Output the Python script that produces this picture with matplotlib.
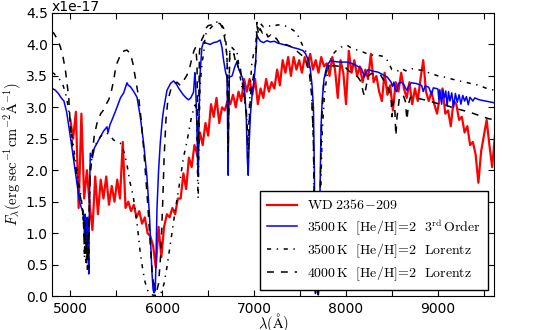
import numpy as np
import matplotlib
matplotlib.use('Agg')
import matplotlib.pyplot as plt
from matplotlib.ticker import MultipleLocator, FuncFormatter

plt.rcParams['mathtext.fontset'] = 'cm'
plt.rcParams['lines.scale_dashes'] = False

SCALE = 1e-17

# observed spectrum, 30 A sampling starting at 5000 A (flux in 1e-17)
red_start, red_step = 5000, 30
red_fx = np.array([
    2.80, 2.50, 2.93, 1.40, 2.90, 1.55, 2.00, 1.45, 1.05, 1.90,
    1.30, 1.85, 1.55, 1.90, 1.45, 1.75, 1.50, 1.85, 1.55, 2.45,
    1.40, 1.50, 1.35, 1.45, 1.25, 1.35, 1.15, 1.25, 1.00, 0.95,
    0.80, 0.45, 1.10, 0.62, 1.10, 1.30, 1.25, 1.40, 1.30, 1.55,
    1.55, 1.95, 1.70, 2.20, 2.05, 2.40, 2.25, 2.60, 2.40, 2.75,
    2.55, 3.05, 2.85, 3.15, 2.75, 3.00, 2.95, 3.10, 3.05, 3.20,
    3.00, 3.25, 3.10, 3.45, 3.25, 3.45, 3.20, 3.45, 3.05, 3.30,
    3.15, 3.45, 3.25, 3.40, 3.30, 3.60, 3.35, 3.75, 3.55, 3.80,
    3.50, 3.80, 3.60, 3.75, 3.55, 3.80, 3.65, 3.85, 3.60, 3.75,
    3.55, 3.80, 3.65, 3.70, 3.50, 3.80, 3.60, 3.15, 3.75, 3.55,
    3.05, 3.90, 3.55, 3.75, 3.50, 3.65, 3.40, 3.60, 3.45, 3.85,
    3.40, 3.50, 3.25, 3.10, 3.55, 3.20, 3.35, 2.95, 3.40, 3.25,
    3.55, 3.30, 3.15, 3.40, 3.05, 3.30, 3.10, 3.45, 3.75, 3.25,
    3.10, 3.25, 3.05, 2.90, 3.15, 3.30, 2.90, 2.95, 2.70, 3.10,
    3.05, 2.80, 2.85, 2.60, 2.70, 2.40, 2.45, 2.25, 1.80, 2.30,
    2.55, 2.80, 2.40, 2.05, 2.55])
red_wl = red_start + red_step * np.arange(len(red_fx))

# 3500 K [He/H]=2, 3rd order model (wavelength, flux)
blue = np.array([
    [4800, 3.30], [4830, 3.28], [4870, 3.22], [4900, 3.15], [4930, 3.10],
    [4960, 2.92], [5000, 2.53], [5036, 2.16], [5072, 1.79], [5100, 1.50],
    [5120, 1.40], [5140, 1.35], [5150, 1.10], [5155, 0.85], [5160, 1.30],
    [5170, 1.20], [5178, 0.70], [5185, 1.25], [5192, 0.90], [5200, 0.35],
    [5208, 1.60], [5217, 2.27], [5240, 2.20], [5260, 2.35], [5290, 2.43],
    [5326, 2.53], [5360, 2.62], [5398, 2.69], [5410, 2.60], [5430, 2.72],
    [5467, 2.85], [5507, 3.00], [5545, 3.15], [5580, 3.23], [5600, 3.32],
    [5616, 3.39], [5630, 3.35], [5652, 3.33], [5690, 3.25], [5725, 3.16],
    [5761, 2.85], [5797, 2.43], [5833, 1.90], [5860, 1.30], [5875, 0.80],
    [5888, 0.37], [5900, 0.10], [5910, 0.05], [5918, 0.20], [5924, 0.08],
    [5932, 0.60], [5942, 1.37], [5960, 2.00], [5978, 2.43], [6000, 2.80],
    [6014, 2.96], [6051, 3.27], [6090, 3.38], [6123, 3.42], [6150, 3.38],
    [6180, 3.30], [6228, 3.20], [6260, 3.15], [6286, 3.12], [6310, 3.15],
    [6340, 3.24], [6355, 3.55], [6362, 3.40], [6375, 2.80], [6385, 2.10],
    [6392, 1.90], [6400, 2.80], [6410, 3.50], [6431, 3.95], [6450, 4.04],
    [6480, 4.02], [6520, 4.00], [6560, 4.03], [6594, 4.04], [6630, 4.07],
    [6650, 3.95], [6667, 3.75], [6690, 3.55], [6705, 3.48], [6712, 2.60],
    [6717, 1.92], [6722, 2.80], [6730, 3.48], [6760, 3.50], [6790, 3.65],
    [6811, 3.72], [6830, 3.62], [6848, 3.55], [6870, 3.48], [6884, 3.40],
    [6900, 3.20], [6915, 2.80], [6925, 2.20], [6935, 1.92], [6945, 2.40],
    [6960, 2.90], [6980, 3.23], [7000, 3.45], [7015, 3.70], [7030, 4.15],
    [7045, 4.10], [7070, 4.05], [7100, 4.03], [7140, 4.06], [7174, 4.04],
    [7220, 4.05], [7260, 4.02], [7315, 4.00], [7370, 3.98], [7424, 3.95],
    [7480, 3.93], [7533, 3.90], [7560, 3.85], [7590, 3.75], [7610, 3.62],
    [7630, 3.35], [7645, 3.00], [7655, 2.00], [7662, 0.80], [7668, 0.05],
    [7676, 0.30], [7684, 1.00], [7690, 0.40], [7698, 0.02], [7706, 0.40],
    [7716, 1.60], [7728, 2.70], [7740, 3.10], [7760, 3.45], [7790, 3.65],
    [7826, 3.74], [7870, 3.73], [7920, 3.72], [7970, 3.72], [8000, 3.72],
    [8043, 3.71], [8090, 3.68], [8130, 3.65], [8165, 3.62], [8185, 3.55],
    [8200, 3.48], [8215, 3.55], [8240, 3.60], [8280, 3.58], [8347, 3.56],
    [8400, 3.52], [8450, 3.48], [8490, 3.40], [8505, 3.33], [8520, 3.40],
    [8535, 3.28], [8550, 3.25], [8570, 3.38], [8600, 3.40], [8630, 3.36],
    [8650, 3.30], [8663, 3.27], [8680, 3.34], [8710, 3.39], [8760, 3.38],
    [8822, 3.35], [8840, 3.25], [8860, 3.34], [8900, 3.32], [8930, 3.20],
    [8950, 3.31], [8980, 3.30], [9000, 3.29], [9010, 3.12], [9020, 3.28],
    [9040, 3.05], [9054, 3.27], [9070, 3.15], [9085, 3.26], [9100, 3.02],
    [9115, 3.25], [9130, 3.10], [9150, 3.23], [9170, 3.00], [9190, 3.22],
    [9210, 3.08], [9230, 3.20], [9250, 3.05], [9270, 3.19], [9290, 3.10],
    [9310, 3.17], [9330, 3.04], [9348, 3.16], [9380, 3.10], [9400, 3.15],
    [9450, 3.12], [9550, 3.09], [9620, 3.07]])

# 3500 K [He/H]=2, Lorentz model
dashdot = np.array([
    [4800, 3.55], [4819, 3.54], [4860, 3.48], [4891, 3.43], [4920, 3.35],
    [4946, 3.23], [4965, 3.10], [4982, 2.96], [5000, 2.75], [5018, 2.53],
    [5036, 2.35], [5054, 2.16], [5072, 1.98], [5090, 1.80], [5110, 1.65],
    [5130, 1.40], [5145, 1.10], [5153, 0.60], [5160, 1.00], [5168, 0.50],
    [5176, 0.90], [5185, 0.40], [5193, 0.80], [5200, 0.45], [5208, 1.40],
    [5217, 2.05], [5235, 2.20], [5250, 2.32], [5290, 2.45], [5326, 2.53],
    [5360, 2.58], [5398, 2.59], [5430, 2.55], [5471, 2.48], [5510, 2.45],
    [5543, 2.43], [5570, 2.35], [5598, 2.21], [5620, 2.05], [5650, 1.80],
    [5685, 1.58], [5705, 1.35], [5725, 1.16], [5745, 0.90], [5761, 0.68],
    [5790, 0.40], [5815, 0.21], [5848, 0.06], [5880, 0.02], [5920, 0.01],
    [5960, 0.02], [5990, 0.06], [6020, 0.20], [6050, 0.45], [6080, 0.75],
    [6110, 1.05], [6140, 1.35], [6170, 1.62], [6200, 1.90], [6230, 2.20],
    [6268, 2.45], [6300, 2.70], [6322, 2.88], [6359, 3.04], [6375, 2.90],
    [6385, 1.80], [6391, 1.55], [6398, 2.40], [6410, 3.30], [6431, 3.70],
    [6450, 3.85], [6467, 4.15], [6490, 4.20], [6520, 4.25], [6550, 4.30],
    [6580, 4.36], [6610, 4.35], [6640, 4.33], [6670, 4.25], [6690, 4.10],
    [6705, 3.75], [6712, 3.00], [6717, 2.43], [6724, 3.30], [6735, 3.96],
    [6760, 3.95], [6790, 3.90], [6811, 3.91], [6830, 3.70], [6848, 3.48],
    [6870, 3.30], [6884, 3.23], [6905, 3.00], [6920, 2.80], [6930, 2.45],
    [6940, 2.60], [6955, 3.30], [6975, 3.70], [6995, 3.86], [7015, 3.90],
    [7030, 4.35], [7045, 4.25], [7065, 4.34], [7100, 4.28], [7150, 4.30],
    [7200, 4.28], [7250, 4.31], [7283, 4.31], [7330, 4.30], [7391, 4.26],
    [7430, 4.22], [7464, 4.18], [7500, 4.07], [7535, 3.96], [7573, 3.86],
    [7600, 3.65], [7625, 3.30], [7645, 2.40], [7658, 0.90], [7667, 0.02],
    [7676, 0.50], [7684, 1.10], [7690, 0.60], [7698, 0.02], [7708, 0.30],
    [7720, 1.40], [7740, 2.60], [7765, 3.20], [7790, 3.48], [7826, 3.75],
    [7860, 3.85], [7899, 3.91], [7950, 3.96], [8008, 3.99], [8050, 3.95],
    [8100, 3.92], [8150, 3.90], [8200, 3.87], [8250, 3.84], [8300, 3.83],
    [8375, 3.82], [8424, 3.80], [8460, 3.72], [8498, 3.60], [8530, 3.60],
    [8565, 3.58], [8600, 3.62], [8650, 3.58], [8700, 3.62], [8760, 3.60],
    [8822, 3.59], [8880, 3.56], [8940, 3.53], [9000, 3.50], [9076, 3.48],
    [9150, 3.45], [9230, 3.42], [9300, 3.40], [9380, 3.37], [9450, 3.35],
    [9530, 3.30], [9620, 3.27]])

# 4000 K [He/H]=2, Lorentz model
dashed = np.array([
    [4800, 4.20], [4819, 4.18], [4860, 4.08], [4891, 3.96], [4920, 3.80],
    [4946, 3.59], [4970, 3.30], [4982, 3.16], [5000, 2.69], [5030, 2.30],
    [5054, 2.05], [5072, 1.90], [5090, 1.70], [5109, 1.58], [5130, 1.40],
    [5145, 1.10], [5155, 0.70], [5162, 1.20], [5170, 0.90], [5178, 0.50],
    [5186, 1.00], [5195, 0.60], [5205, 1.40], [5215, 1.90], [5235, 2.21],
    [5260, 2.55], [5290, 2.75], [5330, 2.90], [5362, 2.96], [5390, 3.05],
    [5417, 3.12], [5445, 3.25], [5471, 3.43], [5490, 3.60], [5507, 3.70],
    [5535, 3.80], [5562, 3.88], [5590, 3.90], [5616, 3.91], [5635, 3.88],
    [5652, 3.86], [5680, 3.70], [5706, 3.48], [5743, 3.16], [5770, 2.80],
    [5797, 2.35], [5820, 1.90], [5845, 1.40], [5870, 0.80], [5895, 0.30],
    [5915, 0.12], [5940, 0.08], [5960, 0.20], [5985, 0.70], [6005, 1.50],
    [6020, 2.20], [6040, 2.80], [6060, 3.10], [6090, 3.27], [6120, 3.35],
    [6160, 3.40], [6196, 3.35], [6230, 3.42], [6268, 3.51], [6300, 3.64],
    [6322, 3.78], [6345, 3.90], [6365, 3.96], [6378, 3.70], [6388, 2.30],
    [6395, 2.80], [6405, 3.90], [6430, 4.08], [6446, 4.12], [6470, 4.25],
    [6500, 4.30], [6530, 4.31], [6560, 4.32], [6594, 4.34], [6630, 4.33],
    [6660, 4.25], [6685, 4.05], [6705, 3.80], [6712, 3.00], [6718, 2.30],
    [6725, 3.20], [6735, 3.86], [6760, 3.80], [6780, 3.85], [6800, 3.70],
    [6811, 3.75], [6830, 3.60], [6848, 3.64], [6865, 3.45], [6884, 3.27],
    [6900, 3.10], [6915, 2.95], [6925, 2.60], [6935, 2.20], [6945, 2.70],
    [6960, 3.20], [6980, 3.40], [7000, 3.55], [7020, 3.75], [7030, 4.30],
    [7050, 4.15], [7065, 4.25], [7090, 4.18], [7120, 4.22], [7150, 4.12],
    [7180, 4.15], [7210, 4.08], [7240, 4.10], [7270, 4.03], [7300, 4.05],
    [7340, 4.00], [7380, 3.98], [7420, 3.95], [7460, 3.90], [7500, 3.85],
    [7540, 3.80], [7570, 3.72], [7600, 3.55], [7625, 3.20], [7645, 2.50],
    [7658, 1.00], [7666, 0.05], [7675, 0.40], [7682, 1.20], [7690, 0.50],
    [7698, 0.02], [7708, 0.50], [7720, 1.80], [7735, 2.80], [7755, 3.35],
    [7790, 3.60], [7830, 3.66], [7880, 3.66], [7940, 3.65], [7989, 3.64],
    [8030, 3.58], [8080, 3.53], [8130, 3.48], [8165, 3.40], [8185, 3.25],
    [8200, 3.18], [8215, 3.30], [8240, 3.50], [8280, 3.54], [8330, 3.52],
    [8378, 3.51], [8424, 3.39], [8460, 3.30], [8490, 3.15], [8500, 2.85],
    [8515, 3.10], [8530, 3.00], [8542, 2.55], [8555, 2.85], [8580, 3.15],
    [8620, 3.20], [8645, 3.10], [8662, 2.80], [8680, 3.05], [8700, 3.16],
    [8760, 3.15], [8820, 3.13], [8880, 3.11], [8950, 3.08], [9020, 3.05],
    [9076, 3.04], [9150, 3.00], [9250, 2.96], [9350, 2.92], [9450, 2.87],
    [9550, 2.82], [9620, 2.80]])

labels = [r'$\mathrm{WD\ 2356\!-\!209}$',
          r'$\mathrm{3500\,K\ \ [He/H]\!=\!2\ \ 3^{rd}\,Order}$',
          r'$\mathrm{3500\,K\ \ [He/H]\!=\!2\ \ Lorentz}$',
          r'$\mathrm{4000\,K\ \ [He/H]\!=\!2\ \ Lorentz}$']

fig = plt.figure(figsize=(5.38, 3.30), dpi=100)
ax = fig.add_axes([52 / 538., 34 / 330., 442 / 538., 283 / 330.])

ax.plot(red_wl, red_fx * SCALE, color='r', lw=1.6, label=labels[0])
ax.plot(blue[:, 0], blue[:, 1] * SCALE, color='b', lw=1.1, label=labels[1])
ax.plot(dashdot[:, 0], dashdot[:, 1] * SCALE, color='k', lw=1.1,
        dashes=(3, 4, 1, 4), label=labels[2])
ax.plot(dashed[:, 0], dashed[:, 1] * SCALE, color='k', lw=1.1,
        dashes=(5, 5), label=labels[3])

ax.set_xlim(4800, 9610)
ax.set_ylim(0, 4.5 * SCALE)
ax.xaxis.set_major_locator(MultipleLocator(500))
ax.xaxis.set_major_formatter(FuncFormatter(
    lambda v, p: '%d' % v if v % 1000 == 0 else ''))
ax.yaxis.set_major_locator(MultipleLocator(0.5 * SCALE))
ax.yaxis.set_major_formatter(FuncFormatter(lambda v, p: '%.1f' % (v / SCALE)))
ax.tick_params(direction='in', length=4, top=True, right=True, labelsize=10)
ax.tick_params(axis='x', pad=4)
ax.tick_params(axis='y', pad=3)
ax.text(0.0, 0.996, 'x1e-17', transform=ax.transAxes, fontsize=10,
        ha='left', va='bottom')

ax.set_xlabel(r'$\lambda(\mathrm{\AA})$', fontsize=10.5)
ax.xaxis.set_label_coords(0.5, -0.054)
ax.set_ylabel(r'$F_\lambda(\mathrm{erg\ sec^{-1}cm^{-2}\AA^{-1}})$',
              fontsize=10.5)
ax.yaxis.set_label_coords(-0.066, 0.5)

leg = ax.legend(loc='lower right', fontsize=10, fancybox=False,
                edgecolor='k', framealpha=1, handlelength=2.2,
                borderpad=0.5, borderaxespad=0.45, labelspacing=0.32,
                handletextpad=0.7)
leg.get_frame().set_linewidth(1.0)

fig.savefig('out.png', dpi=100)
